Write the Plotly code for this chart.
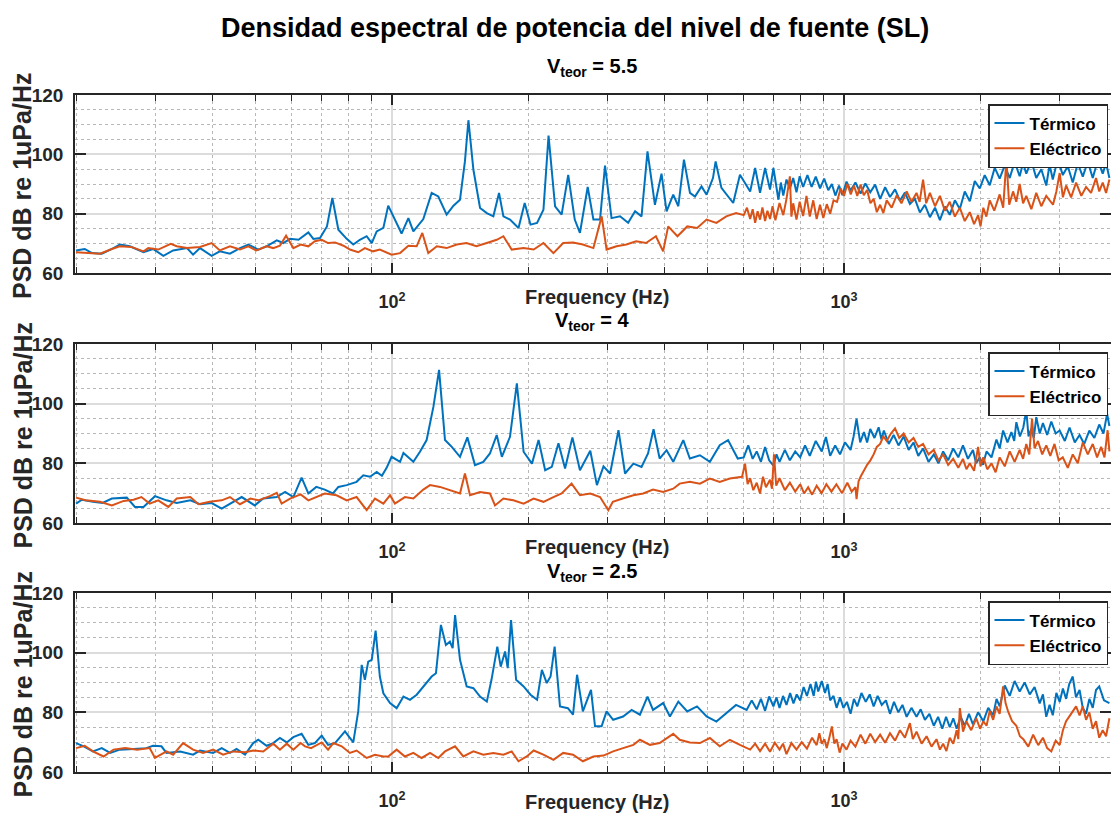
import plotly.graph_objects as go

# ---------------- data ----------------
# Panel 1: V_teor = 5.5
f1_t = [20, 20.9, 21.7, 22.8, 24.2, 25.0, 26.3, 28.2, 29.6, 31.2, 32.8, 35.2, 36.3, 37.6, 39.9, 41.6, 43.8, 46.1,
        48.1, 50.6, 52.8, 55.6, 57.5, 59.5, 62.1, 65.3, 67.0, 69.3, 71.8, 73.8, 76.1, 79.4, 82.1, 84.9, 87.9, 90.2,
        92.5, 95.7, 98.1, 101.5, 105, 108.7, 111.5, 117.3, 122.4, 126.6, 132.1, 136.8, 141.4, 145, 147.6, 151.4,
        156.6, 162.1, 167.6, 172.5, 176.4, 182.4, 190.5, 196.6, 202.5, 209.4, 216.3, 222, 229.5, 237.3, 245.4,
        253.7, 260.5, 271, 279, 288.6, 296, 306, 319.5, 333, 345, 356.5, 367.5, 381.7, 394.7, 405, 419, 430,
        442.5, 456.3, 468, 484, 496.6, 513, 520, 535.6, 554, 568.7, 588.6, 604, 620, 636, 652, 669, 686, 698,
        716, 725, 734, 746, 759, 772, 785, 798, 812, 830, 848, 866, 885, 904, 923, 940, 957, 975, 992, 1013,
        1034, 1060, 1088, 1115, 1143, 1172, 1202, 1233, 1264, 1297, 1330, 1364, 1399, 1435, 1472, 1510, 1549,
        1590, 1630, 1672, 1714, 1759, 1804, 1850, 1898, 1947, 1997, 2048, 2101, 2155, 2210, 2267, 2326, 2385,
        2447, 2489, 2531, 2597, 2663, 2732, 2802, 2850, 2897, 2972, 3048, 3127, 3207, 3290, 3375, 3462, 3551,
        3643, 3736, 3800, 3865]
db1_t = [67.6, 68.1, 66.7, 66.5, 68.4, 69.6, 69.0, 67.0, 68.1, 65.8, 67.6, 68.4, 66.2, 68.4, 65.8, 67.3, 66.5, 68.4,
         69.6, 67.9, 69.0, 71.0, 70.1, 71.5, 71.2, 73.7, 71.5, 71.8, 75.7, 85.3, 74.6, 71.5, 69.6, 71.2, 72.4, 70.1,
         74.0, 75.2, 82.7, 78.0, 73.3, 78.5, 74.0, 78.2, 87.0, 85.8, 79.7, 82.7, 84.7, 97.6, 111.5, 94.8,
         81.9, 80.2, 79.1, 87.0, 79.1, 78.0, 75.2, 83.6, 76.3, 76.9, 81.3, 106.3, 82.5, 79.7, 93.1,
         78.0, 73.5, 89.0, 78.0, 78.0, 96.2, 78.5, 79.1, 76.9, 80.8, 79.1, 101.0, 83.0, 93.5, 80.8, 86.4, 82.5,
         98.2, 87.0, 85.8, 89.2, 86.4, 92.0, 97.6, 88.7, 85.8, 83.6, 93.1, 90.3, 87.5, 95.4, 87.0, 95.4, 88.1, 95.4,
         84.7, 90.5, 86.1, 91.5, 88.5, 92.0, 87.2, 92.6, 89.0, 93.0, 89.0, 92.5, 88.5, 91.8, 87.9, 90.0, 86.1, 89.5, 86.2, 90.8,
         87.8, 90.5, 86.8, 90.2, 87.2, 89.8, 85.0, 88.9, 85.6, 88.2, 84.4, 87.1, 83.3, 85.0, 80.4, 83.0, 78.8,
         82.0, 77.8, 82.4, 79.6, 84.5, 81.6, 87.5, 84.2, 91.0, 88.5, 93.0, 89.6, 95.5, 91.8, 96.2, 92.0, 97.5,
         92.6, 97.0, 93.5, 97.8, 92.0, 95.0, 89.5, 96.5, 91.5, 98.5, 93.0, 96.0, 90.5, 97.0, 92.5, 97.5, 92.0,
         98.0, 93.5, 97.0, 92.0]

f1_e = [20, 21.2, 22.6, 24.0, 25.0, 26.5, 28.2, 28.9, 30.4, 32.4, 33.4, 35.2, 37.6, 39.9, 41.6, 43.8, 46.1, 48.1,
        50.1, 52.8, 54.6, 56.5, 58.3, 60.5, 62.8, 65.3, 67.5, 69.9, 72.2, 74.8, 78.1, 80.7, 84.2, 87.1, 90.8, 94,
        99.8, 104.2, 108.7, 113.4, 116.7, 120.3, 125.7, 132.1, 139.1, 146.2, 153.7, 162.1, 170.5, 176.4, 184,
        195.5, 205.8, 216.3, 227.6, 239.2, 251.5, 264.4, 279, 291, 298.4, 313.8, 330, 346.9, 364.8, 383.6, 398,
        408.3, 428.1, 450, 473.3, 496.6, 522, 549, 577,
        600, 610, 620, 628, 636, 644, 652, 660, 669, 677, 686, 695, 705, 720, 734, 746, 759, 765, 772, 785, 798,
        812, 826, 840, 855, 870, 885, 900, 916, 932, 948, 965, 983, 1000, 1017, 1035, 1052, 1070, 1088, 1106,
        1125, 1144, 1163, 1182, 1202, 1222, 1243, 1275, 1308, 1340, 1376, 1410, 1447, 1470, 1496, 1520, 1549,
        1590, 1630, 1672, 1714, 1759, 1804, 1850, 1898, 1940, 1980, 2005, 2033, 2065, 2101, 2150, 2210, 2250,
        2287, 2320, 2366, 2405, 2447, 2490, 2531, 2597, 2663, 2732, 2802, 2900, 2950, 3000, 3050, 3100, 3180,
        3262, 3350, 3432, 3520, 3611, 3670, 3736, 3800, 3865]
db1_e = [67.0, 66.7, 66.5, 68.1, 69.0, 68.8, 67.3, 68.4, 67.9, 69.8, 69.0, 68.4, 68.8, 70.1, 67.6, 69.0, 67.9, 69.0,
         67.6, 69.0, 68.4, 69.2, 72.6, 68.4, 69.6, 69.0, 70.7, 71.2, 70.1, 70.3, 69.2, 67.9, 67.0, 68.4, 67.3, 67.9,
         66.2, 66.7, 69.2, 69.0, 73.5, 66.7, 69.0, 68.4, 69.6, 70.1, 69.0, 70.1, 71.2, 72.4, 67.9,
         68.4, 67.9, 70.1, 66.7, 70.1, 70.3, 69.6, 68.4, 79.1, 67.9, 69.0, 69.6, 70.7, 70.1, 72.4, 67.3,
         75.7, 72.4, 75.7, 75.2, 78.0, 76.9, 79.1, 80.2,
         79.5, 82.0, 78.2, 81.5, 76.9, 80.8, 78.0, 82.1, 77.5, 81.0, 78.2, 82.5, 77.8, 83.6, 79.5, 85.0, 92.6, 79.0, 83.5, 78.0, 84.0,
         79.2, 86.0, 79.0, 84.5, 78.2, 83.0, 78.5, 83.2, 80.0, 84.5, 84.0, 88.5, 86.0, 90.0, 86.5, 89.5, 86.0, 89.8, 86.2,
         88.0, 83.5, 85.0, 80.5, 83.0, 80.2, 84.5, 82.0, 86.2, 83.5, 87.5, 84.0, 87.0, 84.0, 91.5, 83.5, 87.0,
         82.5, 86.0, 81.0, 84.0, 79.0, 82.0, 77.5, 80.5, 76.5, 79.5, 75.7, 82.0, 79.0, 84.5, 81.0, 86.5, 82.0,
         98.2, 83.0, 87.5, 84.0, 90.0, 83.5, 86.0, 81.5, 87.0, 82.5, 86.0, 83.0, 87.5, 93.7, 85.5, 89.5, 85.5,
         90.5, 86.0, 89.0, 87.0, 92.0, 87.5, 90.5, 87.0, 91.5]

# Panel 2: V_teor = 4
f2_t = [20, 20.6, 21.8, 22.9, 24.0, 25.9, 27.0, 28.2, 29.9, 31.7, 33.4, 35.8, 37.6, 39.9, 42, 44.5, 46.5, 49.7,
        51.9, 55.6, 58, 60.5, 63.1, 65.3, 68, 71, 74, 76.1, 79.4, 83.5, 86.4, 89.4, 92.5, 95, 97.3, 99.8, 104.2,
        106, 111.5, 115.3, 119.3, 123.5, 127.1, 131, 135.6, 141.4, 146.8, 152.6, 159.2, 164.7, 170.5, 175, 182.4,
        188.9, 195.5, 204, 211, 218.2, 225.7, 233.5, 241.5, 250.7, 260.5, 274.6, 284, 293.7, 303.8, 317, 327.8,
        342, 356.5, 368.5, 379, 391, 405, 419, 441, 456, 480, 505, 531, 554, 582,
        600, 614, 628, 641, 655, 669, 683, 698, 709, 720, 740, 759, 780, 800, 820, 840, 866, 893, 912, 932, 956,
        980, 1005, 1034, 1050, 1066, 1086, 1107, 1125, 1143, 1168, 1193, 1210, 1225, 1256, 1288, 1320, 1355,
        1390, 1425, 1460, 1496, 1538, 1580, 1618, 1657, 1700, 1744, 1790, 1833, 1880, 1929, 1960, 1997, 2030,
        2067, 2120, 2174, 2210, 2249, 2300, 2346, 2380, 2406, 2450, 2493, 2531, 2560, 2594, 2630, 2663, 2710,
        2755, 2815, 2875, 2940, 3000, 3080, 3155, 3240, 3320, 3400, 3490, 3580, 3670, 3750, 3820, 3865]
db2_t = [66.5, 67.8, 67.1, 66.7, 68.2, 68.5, 65.4, 65.4, 69.0, 67.6, 66.7, 67.6, 66.3, 66.7, 64.8, 67.1, 68.7, 65.9,
         68.2, 68.7, 70.4, 68.7, 75.2, 69.9, 72.1, 71.2, 69.9, 72.1, 72.7, 73.8, 76.0, 75.5, 77.1, 75.8, 78.5, 82.2, 80.5,
         83.5, 80.5, 83.9, 87.8, 99.0, 111.3, 87.8, 85.5, 82.2, 88.7, 79.4, 80.5, 83.3, 89.5, 82.2, 88.9,
         106.8, 83.9, 79.9, 87.8, 77.7, 78.8, 86.7, 78.3, 88.7, 77.7, 84.2, 72.7, 79.0, 76.6, 91.1, 76.6,
         79.9, 78.8, 83.3, 91.4, 81.6, 84.4, 80.5, 87.8, 81.6, 82.7, 80.5, 86.1, 87.8, 81.6,
         82.0, 86.0, 81.5, 84.0, 80.5, 85.5, 81.0, 79.2, 83.0, 80.5, 84.5, 81.0, 84.0, 82.0, 86.0, 82.5, 87.5, 84.0, 88.8, 82.5, 86.0,
         83.0, 87.0, 84.5, 89.0, 95.0, 87.0, 90.5, 87.0, 91.5, 88.5, 92.1, 88.0, 91.0, 86.5, 89.5, 86.0, 89.0,
         84.5, 87.0, 82.5, 85.0, 80.5, 83.0, 80.0, 84.0, 81.0, 85.0, 82.0, 86.0, 81.5, 84.5, 80.0, 82.0, 79.5,
         84.0, 82.0, 88.0, 85.0, 91.0, 87.0, 90.5, 87.5, 93.8, 89.0, 92.0, 97.7, 89.0, 91.5, 88.5, 95.5, 90.0,
         93.5, 89.5, 94.0, 90.0, 91.0, 87.5, 92.0, 87.0, 89.5, 86.5, 91.0, 88.5, 93.0, 90.0, 96.6, 92.5]

f2_e = [20, 21.0, 22.6, 24.0, 25.5, 26.8, 27.9, 29.1, 30.4, 32, 33.4, 35.8, 37.3, 39.5, 42, 43.8, 46.1, 48.6, 50.6,
        53.7, 55.6, 57, 59.5, 62.8, 65.3, 68, 71, 75.4, 79.4, 83.5, 87.9, 91.7, 95.7, 99.0, 101.5, 106.8, 111.5,
        117.3, 121.4, 127.7, 134.4, 141.4, 145, 148.8, 156.6, 164.7, 169, 176.4, 185.6, 195.5, 205.8, 216.3, 227.6,
        237.3, 249.6, 260.5, 274.6, 288.6, 301, 308, 324, 342, 359.5, 378, 398, 419, 433, 456, 480, 505, 531, 559,
        595, 604, 612, 620, 630, 641, 652, 662, 672, 686, 693, 700, 708, 720, 740, 759, 780, 800, 816, 833, 850,
        870, 892, 914, 938, 962, 990, 1017, 1040, 1060, 1066, 1077, 1088, 1106, 1125, 1144, 1163, 1182, 1202,
        1222, 1243, 1270, 1297, 1325, 1355, 1390, 1425, 1460, 1496, 1538, 1580, 1618, 1657, 1700, 1744, 1790,
        1833, 1866, 1898, 1940, 1980, 2005, 2033, 2075, 2120, 2165, 2210, 2268, 2326, 2385, 2447, 2490, 2531,
        2570, 2606, 2640, 2686, 2745, 2802, 2860, 2922, 2985, 3048, 3127, 3207, 3290, 3375, 3462, 3551, 3630,
        3705, 3770, 3830, 3865]
db2_e = [68.5, 67.6, 67.1, 65.9, 67.4, 67.8, 68.7, 66.5, 67.6, 65.4, 68.2, 68.7, 66.3, 67.1, 67.6, 68.7, 66.3, 68.2, 67.6,
         69.0, 70.1, 66.5, 68.2, 69.6, 67.6, 68.7, 69.9, 69.3, 67.6, 68.7, 64.3, 68.2, 66.5, 69.3, 66.5, 68.7, 68.2,
         71.2, 72.7, 72.1, 71.0, 69.9, 76.6, 69.3, 70.4, 69.9, 65.9, 68.2, 67.6, 66.5, 68.2, 67.1, 68.7,
         69.9, 73.2, 69.3, 69.9, 68.7, 64.3, 67.1, 68.2, 69.3, 69.9, 71.2, 70.4, 71.5, 73.2, 73.8, 73.2, 74.9, 73.8, 74.9,
         75.5, 79.9, 73.0, 75.0, 71.0, 73.5, 69.9, 75.5, 72.0, 74.5, 71.5, 83.0, 72.5, 75.0, 71.0, 73.5, 70.5, 73.0, 69.9, 72.0, 69.5,
         72.5, 70.0, 73.0, 70.5, 73.0, 70.0, 73.5, 70.5, 72.0, 68.0, 74.0, 75.5, 77.5, 79.5, 81.0, 83.0, 85.5, 86.5,
         89.0, 87.5, 90.0, 91.7, 88.5, 90.0, 87.0, 88.5, 85.5, 86.5, 83.0, 84.5, 81.0, 83.0, 79.5, 81.5, 78.5,
         81.5, 78.0, 80.0, 77.5, 85.5, 79.0, 82.0, 78.0, 80.0, 77.0, 82.0, 79.0, 84.0, 80.5, 84.5, 81.5, 86.5,
         83.0, 95.0, 85.0, 87.5, 83.0, 86.0, 82.5, 86.5, 81.0, 82.0, 78.5, 83.0, 80.0, 87.0, 83.0, 86.5, 82.0,
         85.5, 82.0, 91.1, 84.0]

# Panel 3: V_teor = 2.5
f3_t = [20, 20.8, 21.8, 22.8, 23.8, 25.0, 26.8, 28.6, 29.6, 30.9, 31.7, 34, 36.3, 37.6, 40.2, 42, 43.8, 45.3, 47.3,
        49.3, 50.6, 52.8, 54.6, 56.5, 58.5, 60.5, 63.1, 65.3, 67.5, 69.9, 72.2, 74.8, 78.7, 82.1, 84.2, 85.7, 87.1,
        88.6, 90.2, 92.0, 94, 95.7, 99, 102.4, 106, 109.6, 113.4, 117.3, 122.4, 125.1, 128.3, 131.6, 134.3, 136.2,
        137.9, 141.4, 146.3, 151.4, 156.6, 162.1, 166, 171, 174, 177.9, 180.3, 183.4, 188.2, 195.5, 202.5, 209.4,
        214.6, 220, 224.3, 229, 235.3, 245, 251.5, 256.7, 264.4, 275.6, 281.3, 290.9, 298.4, 308.5, 324.5, 339,
        353.6, 367.5, 378, 398, 412, 430, 450, 473, 496.6, 522, 549, 577,
        609, 625, 641, 655, 669, 683, 698, 709, 720, 733, 746, 760, 773, 786, 800, 814, 828, 843, 857, 867, 877,
        893, 908, 920, 932, 948, 963, 980, 997, 1015, 1034, 1052, 1070, 1093, 1117, 1140, 1163, 1187, 1212, 1238,
        1264, 1290, 1319, 1347, 1376, 1410, 1447, 1478, 1510, 1545, 1580, 1615, 1650, 1682, 1714, 1745, 1775,
        1812, 1850, 1890, 1929, 1980, 2033, 2085, 2138, 2175, 2210, 2268, 2326, 2385, 2447, 2510, 2576, 2640,
        2710, 2755, 2802, 2850, 2897, 2950, 3000, 3050, 3100, 3150, 3207, 3260, 3320, 3375, 3432, 3490, 3551,
        3610, 3670, 3760, 3865]
db3_t = [69.7, 68.6, 66.9, 68.0, 66.4, 67.5, 67.7, 68.0, 68.8, 68.6, 66.4, 66.9, 65.8, 67.2, 66.4, 68.0, 66.4, 67.7, 65.8,
         69.7, 70.8, 68.8, 69.7, 71.4, 69.9, 71.7, 72.8, 69.1, 69.7, 72.2, 69.1, 69.7, 73.6, 69.9, 80.3, 95.9, 90.9,
         97.0, 97.6, 107.4, 92.0, 86.4, 83.1, 81.4, 85.3, 84.2, 85.9, 88.7, 92.0, 93.1, 109.3, 102.6, 103.7, 101.5,
         112.6, 97.6, 88.7, 88.1, 85.3, 83.6, 90.9, 102.0, 95.3, 100.4, 94.8, 110.9, 90.9, 88.7, 85.9, 84.2,
         94.2, 89.8, 92.0, 102.0, 82.0, 81.4, 79.2, 92.6, 80.3, 87.5, 75.3, 75.3, 80.3, 77.5, 78.6, 80.8,
         79.2, 85.3, 80.8, 83.1, 78.6, 83.6, 80.3, 82.0, 78.6, 76.9, 79.7, 82.5,
         80.8, 84.0, 81.0, 84.5, 80.5, 85.3, 82.0, 85.0, 81.5, 85.5, 82.5, 86.5, 83.0, 86.0, 84.0, 88.5, 85.5, 89.5, 85.5, 90.3, 87.0,
         90.5, 86.5, 89.5, 84.0, 85.5, 81.5, 85.0, 81.5, 83.5, 79.5, 84.5, 82.0, 86.5, 83.5, 86.0, 82.0, 85.5, 82.5, 84.0,
         79.5, 83.5, 80.0, 82.5, 78.5, 81.5, 78.5, 81.0, 77.5, 79.5, 75.5, 78.5, 74.5, 78.5, 75.0, 78.0, 74.5,
         78.5, 75.5, 79.5, 76.0, 80.0, 77.0, 81.5, 79.0, 84.5, 82.0, 89.0, 85.5, 90.5, 87.0, 90.0, 86.0, 88.5,
         83.0, 86.0, 78.5, 82.5, 79.0, 86.5, 83.5, 88.0, 84.5, 89.5, 92.0, 85.0, 87.5, 81.5, 79.5, 84.5, 81.5,
         87.5, 88.7, 84.0, 83.1]

f3_e = [20, 20.9, 21.8, 23.0, 24.2, 25.7, 27.3, 29.1, 29.9, 31.7, 32.8, 34.5, 36.3, 38.2, 40.2, 42.3, 44.5, 47.3,
        49.3, 51.9, 54.6, 56.5, 58.5, 60.5, 62.8, 64.2, 66.2, 69.9, 72.2, 74.2, 77.4, 80.7, 83.5, 87.9, 91.7, 95.7,
        98.1, 102.4, 106.8, 111.5, 116.3, 121.4, 126.6, 131, 137.9, 143.8, 151.4, 159.2, 167.6, 176.4, 184, 190.5,
        198.7, 205.8, 216.3, 227.6, 239.2, 251.5, 264.4, 279, 293.7, 308.5, 324.5, 342, 353.6, 372, 391, 405, 419,
        433, 456, 480, 505, 531, 559, 588.6,
        620, 636, 652, 669, 686, 703, 720, 733, 746, 765, 785, 806, 828, 850, 870, 882, 893, 905, 916, 928, 940,
        952, 963, 978, 992, 1013, 1034, 1060, 1088, 1115, 1143, 1172, 1202, 1233, 1264, 1297, 1330, 1364, 1399,
        1420, 1447, 1485, 1523, 1562, 1602, 1630, 1657, 1685, 1714, 1745, 1775, 1790, 1804, 1834, 1864, 1912,
        1962, 2000, 2033, 2067, 2101, 2138, 2174, 2210, 2249, 2278, 2307, 2355, 2406, 2450, 2493, 2557, 2621,
        2690, 2755, 2815, 2875, 2940, 3000, 3050, 3100, 3180, 3262, 3320, 3375, 3432, 3490, 3550, 3611, 3670,
        3736, 3800, 3865]
db3_e = [68.0, 68.8, 66.9, 65.2, 67.5, 68.0, 67.5, 68.0, 64.7, 66.9, 65.8, 69.7, 67.5, 66.4, 67.5, 65.8, 66.9, 66.6,
         67.2, 66.9, 69.5, 67.5, 69.5, 67.5, 69.7, 68.6, 68.0, 69.9, 67.5, 69.7, 68.6, 66.4, 67.2, 64.7, 65.8, 65.2,
         65.2, 67.5, 65.2, 66.4, 64.7, 66.4, 64.7, 66.9, 68.6, 65.2, 66.9, 65.8, 66.4, 65.8, 66.9, 63.6,
         65.2, 67.2, 65.8, 64.1, 66.4, 65.8, 63.6, 65.2, 65.5, 66.9, 68.0, 69.1, 70.8, 69.1, 69.7, 71.4, 72.8,
         70.8, 69.9, 69.7, 71.4, 68.6, 70.8, 69.1,
         67.5, 69.5, 67.0, 69.5, 66.8, 69.8, 67.5, 69.5, 66.0, 69.7, 67.5, 70.0, 67.8, 71.5, 69.0, 73.0, 69.5, 71.0, 68.0, 71.5, 75.3,
         69.5, 71.0, 66.5, 69.5, 67.5, 70.5, 68.5, 72.5, 69.5, 72.8, 70.0, 72.5, 69.8, 73.0, 70.5, 74.0, 71.5, 76.4,
         71.0, 73.5, 69.5, 72.0, 68.5, 71.0, 67.5, 69.5, 67.0, 71.5, 69.5, 74.0, 71.0, 81.4, 73.5, 77.0, 74.0,
         78.0, 74.5, 77.0, 75.5, 80.5, 77.5, 82.0, 79.5, 88.7, 83.0, 80.3, 77.0, 75.5, 72.0, 71.0, 68.5, 72.5,
         69.0, 71.5, 68.0, 66.9, 70.5, 69.0, 74.0, 77.0, 79.5, 82.0, 79.0, 82.0, 77.5, 80.0, 74.5, 77.0, 71.5,
         74.0, 72.0, 78.0]

subtitles = ["5.5", "4", "2.5"]
series_names = ["Térmico", "Eléctrico"]
y_ticks = [60, 80, 100, 120]
x_major = [100, 1000]
x_major_text = ["10<sup>2</sup>", "10<sup>3</sup>"]
x_minor = [20, 30, 40, 50, 60, 70, 80, 90, 200, 300, 400, 500, 600, 700, 800, 900, 2000, 3000]

# ---------------- styling ----------------
BLUE = "#0072BD"
ORANGE = "#D95319"
FONT = "Liberation Sans, Arial, Helvetica"
DARK = "#262626"
W, H = 1111, 816
L = 75  # left margin px

def px_x(p):
    return (p - L) / (W - L)

def px_y(p):
    return 1 - p / H

domains = [(95, 273), (344, 523), (593, 772)]
legend_tops = [104, 352, 601]
sub_bottoms = [81, 335, 586]
xlabel_centers = [297, 547, 802]

fig = go.Figure()
panels = [(f1_t, db1_t, f1_e, db1_e), (f2_t, db2_t, f2_e, db2_e), (f3_t, db3_t, f3_e, db3_e)]
for i, (ft, dt, fe, de) in enumerate(panels):
    sfx = "" if i == 0 else str(i + 1)
    leg = "legend" + sfx
    fig.add_trace(go.Scatter(x=ft, y=dt, mode="lines", name=series_names[0],
                             line=dict(color=BLUE, width=2), xaxis="x" + sfx, yaxis="y" + sfx,
                             legend=leg))
    fig.add_trace(go.Scatter(x=fe, y=de, mode="lines", name=series_names[1],
                             line=dict(color=ORANGE, width=2), xaxis="x" + sfx, yaxis="y" + sfx,
                             legend=leg))

layout = dict(width=W, height=H, margin=dict(l=L, r=0, t=0, b=0, autoexpand=False),
              paper_bgcolor="white", plot_bgcolor="white",
              font=dict(family=FONT, color=DARK, size=18, weight="bold"),
              showlegend=True)

for i, (top, bot) in enumerate(domains):
    sfx = "" if i == 0 else str(i + 1)
    layout["xaxis" + sfx] = dict(
        type="log", range=[1.2987, 3.5907], domain=[0, 1], anchor="y" + sfx, automargin=False,
        tickmode="array", tickvals=x_major, ticktext=x_major_text,
        showline=True, linecolor=DARK, linewidth=1.5, mirror="ticks",
        ticks="inside", ticklen=10, tickwidth=1.5, tickcolor=DARK,
        showgrid=True, gridcolor="#dcdcdc", gridwidth=1.5,
        tickfont=dict(family=FONT, size=18, color=DARK, weight="bold"),
        ticklabelstandoff=12, zeroline=False,
        minor=dict(tickmode="array", tickvals=x_minor, ticks="inside", ticklen=6,
                   tickwidth=1.2, tickcolor=DARK, showgrid=True, gridcolor="#b8b8b8",
                   griddash="dot", gridwidth=1.2),
    )
    layout["yaxis" + sfx] = dict(
        range=[60, 120], domain=[px_y(bot), px_y(top)], anchor="x" + sfx, automargin=False,
        tickmode="array", tickvals=y_ticks,
        showline=True, linecolor=DARK, linewidth=1.5, mirror="ticks",
        ticks="inside", ticklen=11, tickwidth=1.5, tickcolor=DARK,
        showgrid=True, gridcolor="#dcdcdc", gridwidth=1.5,
        tickfont=dict(family=FONT, size=19, color=DARK, weight="bold"),
        ticklabelstandoff=6, zeroline=False,
        minor=dict(dtick=5, ticks="", showgrid=True, gridcolor="#b8b8b8",
                   griddash="dot", gridwidth=1.2),
    )
    layout["legend" + sfx] = dict(
        x=px_x(1108), xanchor="right", y=px_y(legend_tops[i]), yanchor="top",
        bgcolor="white", bordercolor=DARK, borderwidth=1.5,
        font=dict(family=FONT, size=17, color="black", weight="bold"),
        tracegroupgap=0, itemwidth=30,
    )

annotations = [
    dict(text="Densidad espectral de potencia del nivel de fuente (SL)", xref="paper", yref="paper",
         x=px_x(575), y=px_y(28), xanchor="center", yanchor="middle", showarrow=False,
         font=dict(family=FONT, size=27, color="black", weight="bold")),
]
for i, (top, bot) in enumerate(domains):
    annotations.append(dict(text="V<sub>teor</sub> = " + subtitles[i], xref="paper", yref="paper",
                            x=px_x(592), y=px_y(sub_bottoms[i]), xanchor="center", yanchor="bottom",
                            showarrow=False, borderpad=0,
                            font=dict(family=FONT, size=20, color="black", weight="bold")))
    annotations.append(dict(text="Frequency (Hz)", xref="paper", yref="paper",
                            x=px_x(597), y=px_y(xlabel_centers[i]), xanchor="center", yanchor="middle",
                            showarrow=False,
                            font=dict(family=FONT, size=20, color=DARK, weight="bold")))
    annotations.append(dict(text="PSD dB re 1uPa/Hz", xref="paper", yref="paper", textangle=-90,
                            x=px_x(22), y=px_y((top + bot) / 2 + 2), xanchor="center", yanchor="middle",
                            showarrow=False,
                            font=dict(family=FONT, size=25, color=DARK, weight="bold")))
layout["annotations"] = annotations

fig.update_layout(**layout)
fig.write_html("out.html")
